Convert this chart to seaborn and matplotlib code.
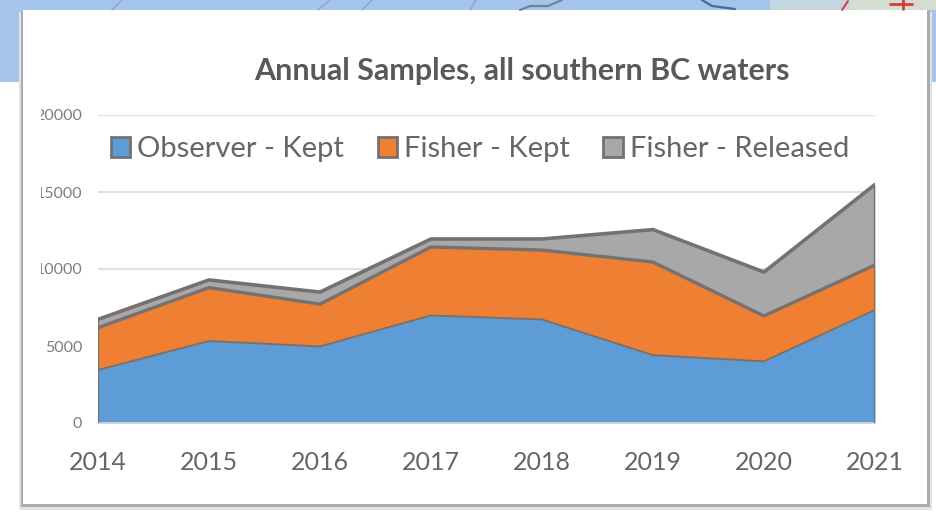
import matplotlib
matplotlib.use("Agg")
import matplotlib.pyplot as plt
import pandas as pd
import seaborn as sns
from matplotlib.lines import Line2D
from matplotlib.patches import Patch, Rectangle
from matplotlib.transforms import Bbox

years = [2014, 2015, 2016, 2017, 2018, 2019, 2020, 2021]
observer_kept = [3440, 5320, 4970, 6980, 6720, 4400, 4000, 7340]
fisher_kept = [2750, 3470, 2750, 4450, 4510, 6050, 2950, 2920]
fisher_released = [540, 500, 780, 520, 720, 2110, 2850, 5230]

series_names = ["Observer - Kept", "Fisher - Kept", "Fisher - Released"]
colors = ["#5e9cd7", "#ee7f33", "#a8a8a8"]
edge = "#767171"
text_col = "#666666"

W, H = 936, 512

sns.set_theme(style="white")
plt.rcParams["font.family"] = ["Lato", "DejaVu Sans"]

df = pd.DataFrame(
    {"year": years, "Observer - Kept": observer_kept, "Fisher - Kept": fisher_kept, "Fisher - Released": fisher_released}
)
tops = df.set_index("year")[series_names].cumsum(axis=1)
long_df = tops.reset_index().melt("year", var_name="series", value_name="top")

fig = plt.figure(figsize=(W / 100, H / 100), dpi=100, facecolor="white")


def px_rect(x0, y0, x1, y1, **kw):
    # rectangle given in image pixels, y going down
    fig.add_artist(Rectangle((x0 / W, 1 - y1 / H), (x1 - x0) / W, (y1 - y0) / H, transform=fig.transFigure,
                             lw=0, zorder=-5, **kw))


def px_line(xs, ys, color, lw):
    fig.add_artist(Line2D([x / W for x in xs], [1 - y / H for y in ys], color=color, lw=lw, zorder=-4))


# map strip behind the panel, then panel shadow and panel
px_rect(0, 0, W, 82, color="#a4c4ea")
px_rect(770, 0, W, 10, color="#c4d6e0")
px_rect(850, 0, W, 10, color="#d5dcd2")
px_line([112, 122], [10, 0], "#8aa6c6", 1)
px_line([318, 330], [10, 0], "#8aa6c6", 1)
px_line([362, 372], [10, 0], "#8aa6c6", 1)
px_line([520, 530, 548, 562], [10, 6, 6, 0], "#6f8498", 1.6)
px_line([470, 476], [10, 0], "#8aa6c6", 1)
px_line([702, 712, 735], [0, 6, 9], "#3b6fa3", 1.6)
px_line([842, 848], [10, 1], "#d83a3a", 1.4)
px_line([890, 912], [4, 4], "#d83a3a", 2)
px_line([903, 903], [0, 9], "#d83a3a", 2)
px_rect(19, 12, 932, 510, color="#e2e2e2")
px_rect(21, 11, 930, 507, color="#ababab")
px_rect(23, 10, 927, 504, color="white")

ax = fig.add_axes([98 / W, 1 - 423 / H, (875 - 98) / W, (423 - 115) / H])
ax.set_facecolor("none")
ax.stackplot(years, observer_kept, fisher_kept, fisher_released, colors=colors, lw=0, zorder=2)
sns.lineplot(
    data=long_df, x="year", y="top", units="series", estimator=None, color=edge,
    size="series", sizes={series_names[0]: 1.4, series_names[1]: 2.4, series_names[2]: 2.6},
    legend=False, ax=ax, zorder=3,
)
ax.vlines([years[0], years[-1]], 0, [tops.iloc[0, -1], tops.iloc[-1, -1]], color=edge, lw=1.6, zorder=3)

ax.set_xlim(2014, 2021)
ax.set_ylim(0, 20000)
ax.set_xticks(years)
ax.set_yticks([0, 5000, 10000, 15000, 20000])
ax.set_xlabel("")
ax.set_ylabel("")
ax.yaxis.grid(True, color="#e0e0e0", lw=1.5, zorder=1)
ax.set_axisbelow(True)
sns.despine(ax=ax, left=True, top=True, right=True)
ax.spines["bottom"].set_color("#d9d9d9")
ax.spines["bottom"].set_linewidth(1.2)
ax.tick_params(axis="x", length=7, width=1, color="#d9d9d9", pad=13.3, labelsize=18, labelcolor=text_col)
ax.tick_params(axis="y", length=0, pad=11.5, labelsize=11.5, labelcolor="#7d7d7d")

# the leftmost digit of the long labels is cut off by the picture crop
clip = Bbox([[41, 0], [W, H]])
for lab in ax.get_yticklabels():
    lab.set_clip_box(clip)
    lab.set_clip_on(True)

fig.text(522 / W, 1 - 71 / H, "Annual Samples, all southern BC waters", ha="center", va="center",
         fontsize=21.9, fontweight="bold", color="#595959")

handles = [Patch(facecolor=c, edgecolor=edge, lw=2) for c in colors]
ax.legend(
    handles, series_names, loc="center left", bbox_to_anchor=(13 / 777, (423 - 149) / 308),
    ncol=3, frameon=False, fontsize=21, labelcolor=text_col, handlelength=0.66, handleheight=0.66,
    handletextpad=0.24, columnspacing=1.15, borderpad=0, borderaxespad=0,
)

fig.savefig("out.png", dpi=100)
